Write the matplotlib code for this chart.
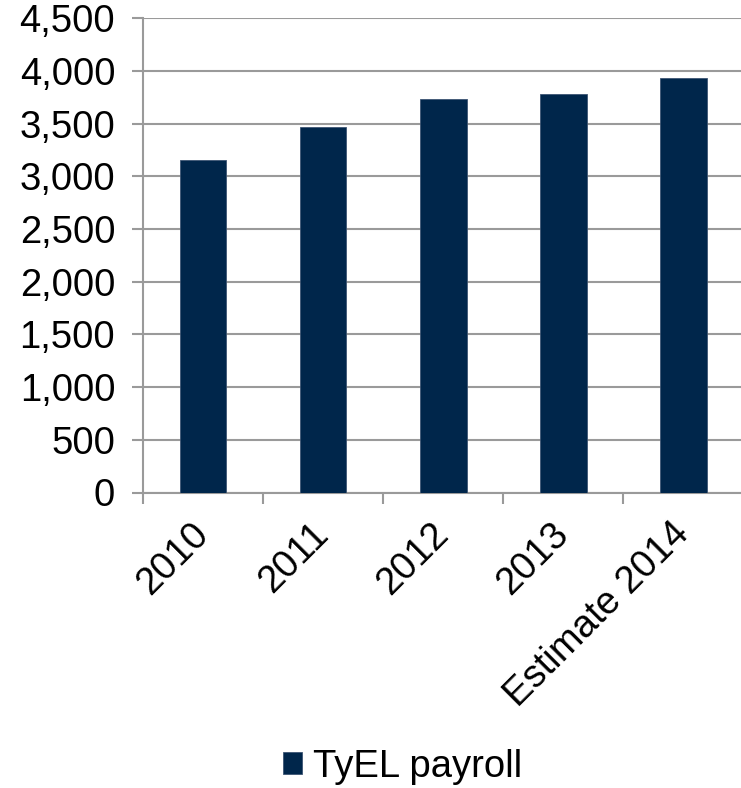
import matplotlib.pyplot as plt
from matplotlib.ticker import FuncFormatter, MultipleLocator

categories = ["2010", "2011", "2012", "2013", "Estimate 2014"]
payroll = [3150, 3468, 3730, 3784, 3930]
series_name = "TyEL payroll"

BAR_COLOR = "#00264b"
GRID_COLOR = "#9a9a9a"
FS = 27.5

plt.rcParams["font.family"] = ["Liberation Sans", "DejaVu Sans"]

fig = plt.figure(figsize=(7.41, 7.88), dpi=100)
ax = fig.add_axes([0.193, 0.375, 0.81, 0.602])

x = list(range(len(categories)))
ax.bar(x, payroll, width=0.39, color=BAR_COLOR, edgecolor="#3d5573",
       linewidth=0.6, label=series_name, zorder=3)

ax.set_xlim(-0.5, len(categories) - 0.5)
ax.set_ylim(0, 4500)
ax.yaxis.set_major_locator(MultipleLocator(500))
ax.yaxis.set_major_formatter(FuncFormatter(lambda v, p: f"{int(v):,}"))
ax.grid(axis="y", color=GRID_COLOR, linewidth=1.5, zorder=0)

# category boundaries carry the x ticks
ax.set_xticks([i - 0.5 for i in range(len(categories) + 1)])
ax.set_xticklabels([])
ax.set_xticks(x, minor=True)
ax.set_xticklabels(categories, minor=True, rotation=45, ha="right", va="center",
                   rotation_mode="anchor", fontsize=FS)
ax.tick_params(axis="x", which="minor", length=0, pad=26)
ax.tick_params(axis="x", which="major", length=8, width=1.5, color=GRID_COLOR)
ax.tick_params(axis="y", length=8, width=1.5, color=GRID_COLOR, labelsize=FS, pad=12)

for side in ["top", "right"]:
    ax.spines[side].set_visible(False)
for side in ["left", "bottom"]:
    ax.spines[side].set_color(GRID_COLOR)
    ax.spines[side].set_linewidth(1.5)

fig.legend(loc="center", bbox_to_anchor=(0.543, 0.027), frameon=False,
           fontsize=FS, handlelength=0.5, handleheight=0.5, handletextpad=0.3)

fig.savefig("out.png", dpi=100)
